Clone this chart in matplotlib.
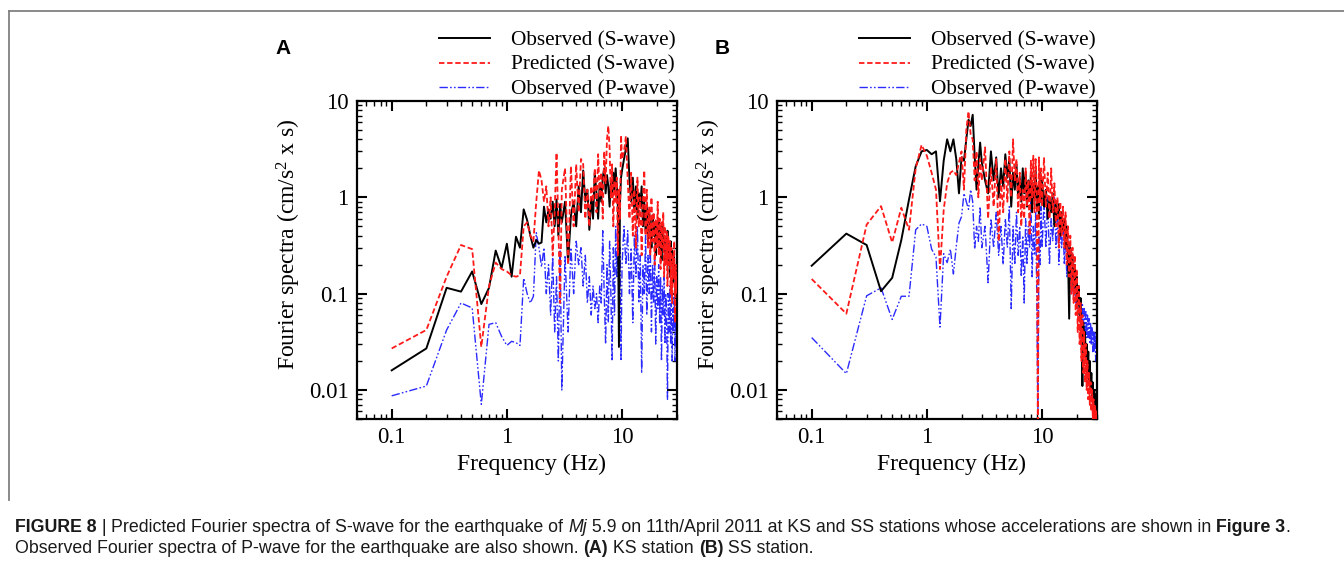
import numpy as np
import matplotlib
matplotlib.use('Agg')
import matplotlib.pyplot as plt
from matplotlib.lines import Line2D
from matplotlib.ticker import FixedLocator, FixedFormatter, LogLocator, NullFormatter
from matplotlib import font_manager

W, H = 1344, 561

# ---------------- data ----------------
# frequency grid (Hz): 0.1 step to 3 Hz, 0.2 step to 10 Hz, 0.4 step to 30 Hz
FREQ = np.round(np.concatenate([np.arange(1, 31) * 0.1,
                                3.0 + np.arange(1, 36) * 0.2,
                                10.0 + np.arange(1, 51) * 0.4]), 2)

A_OBS_S = [0.016, 0.027, 0.115, 0.105, 0.17, 0.078, 0.115, 0.28, 0.185, 0.33,
           0.15, 0.39, 0.30, 0.75, 0.58, 0.40, 0.30, 0.36, 0.33, 0.34,
           0.80, 0.55, 0.75, 0.60, 0.90, 0.50, 0.95, 0.40, 0.85, 0.55,
           0.9, 0.21, 0.65, 0.9, 0.5, 1.3, 0.7, 1.9, 0.9, 1.2,
           0.46, 1.0, 0.6, 1.8, 1.1, 0.6, 1.4, 0.9, 1.6, 2.0,
           1.1, 1.7, 1.3, 0.8, 1.5, 1.0, 1.8, 1.2, 2.0, 1.3,
           0.8, 0.028, 0.9, 1.6, 1.9,
           2.5, 3.2, 4.1, 1.5, 0.9, 1.6, 0.7, 1.3, 0.6, 1.1,
           0.8, 1.3, 0.5, 0.9, 0.45, 0.8, 0.35, 0.7, 0.5, 0.3,
           0.65, 0.4, 0.55, 0.25, 0.5, 0.35, 0.6, 0.3, 0.45, 0.22,
           0.5, 0.3, 0.4, 0.2, 0.35, 0.25, 0.45, 0.2, 0.3, 0.15,
           0.35, 0.2, 0.28, 0.13, 0.25, 0.15, 0.2, 0.1, 0.18, 0.12]

A_PRED_S = [0.027, 0.042, 0.15, 0.32, 0.29, 0.028, 0.12, 0.21, 0.18, 0.17,
            0.155, 0.15, 0.155, 0.5, 0.55, 0.4, 0.35, 0.9, 1.9, 1.5,
            0.9, 1.3, 0.5, 1.0, 0.25, 0.7, 2.9, 0.5, 0.08, 1.2,
            2.0, 0.2, 2.1, 0.5, 2.2, 0.7, 2.5, 2.2, 0.6, 1.2,
            0.5, 1.3, 0.9, 2.0, 0.7, 2.8, 1.0, 1.8, 0.6, 3.0,
            1.4, 4.0, 5.5, 3.2, 1.0, 2.2, 0.5, 1.5, 0.9, 1.6,
            0.25, 1.2, 0.6, 4.4, 2.5,
            3.0, 4.3, 1.5, 0.6, 1.8, 0.4, 1.2, 0.3, 1.6, 0.5,
            1.0, 0.25, 0.9, 1.9, 0.4, 1.2, 0.3, 0.8, 0.25, 1.0,
            0.35, 0.7, 0.2, 0.6, 0.3, 0.9, 0.25, 0.6, 0.18, 0.55,
            0.3, 0.7, 0.15, 0.5, 0.2, 0.45, 0.12, 0.4, 0.2, 0.35,
            0.1, 0.3, 0.08, 0.25, 0.15, 0.35, 0.05, 0.2, 0.1, 0.15]

A_OBS_P = [0.0087, 0.011, 0.042, 0.08, 0.071, 0.0071, 0.048, 0.05, 0.036, 0.029,
           0.032, 0.031, 0.029, 0.145, 0.10, 0.08, 0.094, 0.43, 0.3, 0.19,
           0.3, 0.1, 0.2, 0.06, 0.25, 0.04, 0.15, 0.02, 0.3, 0.01,
           0.25, 0.04, 0.3, 0.1, 0.35, 0.2, 0.3, 0.12, 0.25, 0.08,
           0.15, 0.06, 0.12, 0.07, 0.1, 0.05, 0.12, 0.08, 0.45, 0.1,
           0.03, 0.2, 0.05, 0.35, 0.1, 0.02, 0.3, 0.06, 0.5, 0.15,
           0.4, 0.08, 0.3, 0.02, 0.2,
           0.5, 0.2, 0.45, 0.1, 0.3, 0.05, 0.4, 0.15, 0.5, 0.08,
           0.25, 0.015, 0.2, 0.1, 0.4, 0.06, 0.25, 0.1, 0.3, 0.04,
           0.2, 0.08, 0.25, 0.03, 0.15, 0.07, 0.2, 0.05, 0.15, 0.02,
           0.12, 0.06, 0.15, 0.03, 0.1, 0.05, 0.008, 0.1, 0.04, 0.12,
           0.03, 0.08, 0.02, 0.07, 0.04, 0.1, 0.02, 0.06, 0.03, 0.05]

B_OBS_S = [0.195, 0.42, 0.32, 0.106, 0.146, 0.36, 0.95, 2.1, 3.0, 3.1,
           2.8, 3.0, 0.91, 2.4, 4.0, 3.0, 4.0, 2.5, 1.1, 2.6,
           2.4, 4.0, 6.4, 5.5, 7.2, 2.7, 1.2, 2.2, 3.7, 2.3,
           1.5, 1.1, 3.0, 1.5, 2.6, 1.0, 2.0, 1.3, 2.8, 1.6,
           2.5, 0.8, 1.8, 1.2, 2.2, 1.0, 1.6, 0.9, 2.0, 1.1,
           1.8, 0.8, 1.5, 1.0, 1.7, 0.7, 1.4, 1.0, 1.9, 0.8,
           1.3, 0.6, 1.8, 0.9, 1.5,
           0.8, 1.2, 0.6, 1.0, 0.7, 1.1, 0.5, 0.9, 0.6, 0.85,
           0.4, 0.7, 0.45, 0.6, 0.3, 0.5, 0.25, 0.055, 0.3, 0.2,
           0.25, 0.12, 0.2, 0.1, 0.15, 0.08, 0.12, 0.06, 0.09, 0.04,
           0.011, 0.05, 0.03, 0.04, 0.02, 0.03, 0.015, 0.025, 0.012, 0.02,
           0.01, 0.015, 0.008, 0.012, 0.007, 0.01, 0.006, 0.009, 0.006, 0.008]

B_PRED_S = [0.142, 0.062, 0.52, 0.81, 0.34, 0.78, 0.46, 2.0, 3.5, 2.7,
            1.8, 1.2, 0.18, 0.74, 1.4, 1.8, 1.9, 1.7, 2.3, 3.0,
            1.2, 5.0, 7.8, 4.5, 4.0, 1.5, 3.0, 1.0, 2.5, 1.5,
            3.3, 0.6, 2.0, 0.8, 2.5, 0.35, 1.5, 0.7, 2.5, 0.9,
            3.0, 1.0, 4.0, 1.5, 2.5, 0.7, 1.8, 0.5, 1.2, 0.6,
            2.0, 0.8, 1.5, 0.4, 2.4, 1.0, 2.7, 0.7, 2.5, 1.2,
            0.003, 2.6, 0.9, 2.0, 0.8,
            2.6, 0.8, 1.8, 0.6, 2.0, 0.7, 1.4, 0.5, 1.0, 0.3,
            0.9, 0.4, 0.8, 0.3, 0.7, 0.2, 0.5, 0.15, 0.4, 0.1,
            0.3, 0.08, 0.25, 0.06, 0.18, 0.04, 0.12, 0.03, 0.08, 0.02,
            0.06, 0.015, 0.04, 0.012, 0.03, 0.01, 0.02, 0.008, 0.015, 0.007,
            0.012, 0.006, 0.01, 0.005, 0.008, 0.004, 0.007, 0.005, 0.006, 0.004]

B_OBS_P = [0.035, 0.0148, 0.095, 0.115, 0.054, 0.094, 0.094, 0.46, 0.53, 0.50,
           0.29, 0.24, 0.045, 0.26, 0.21, 0.29, 0.16, 0.31, 0.54, 0.63,
           1.1, 0.9, 0.75, 1.2, 0.9, 0.29, 0.5, 0.35, 0.8, 0.3,
           0.5, 0.13, 0.6, 0.3, 0.7, 0.25, 0.5, 0.2, 0.6, 0.3,
           0.8, 0.07, 0.5, 0.2, 0.7, 0.25, 0.5, 0.15, 0.4, 0.08,
           0.6, 0.2, 0.5, 0.3, 0.9, 0.15, 0.5, 0.25, 0.7, 0.1,
           0.006, 0.4, 0.2, 0.8, 0.3,
           0.9, 0.3, 1.0, 0.2, 0.6, 0.35, 1.0, 0.3, 0.7, 0.2,
           0.5, 0.3, 0.6, 0.2, 0.4, 0.15, 0.3, 0.12, 0.25, 0.1,
           0.2, 0.09, 0.15, 0.08, 0.12, 0.07, 0.1, 0.06, 0.09, 0.05,
           0.08, 0.045, 0.07, 0.04, 0.065, 0.035, 0.06, 0.035, 0.055, 0.03,
           0.05, 0.03, 0.045, 0.025, 0.04, 0.025, 0.04, 0.02, 0.035, 0.03]

LEGEND_LABELS = ['Observed (S-wave)', 'Predicted (S-wave)', 'Observed (P-wave)']
XTICKS = [0.1, 1, 10]
XTICKLABELS = ['0.1', '1', '10']
YTICKS = [0.01, 0.1, 1, 10]
YTICKLABELS = ['0.01', '0.1', '1', '10']
PANEL_LABELS = ['A', 'B']
XLABEL = 'Frequency (Hz)'
YLABEL = r'Fourier spectra (cm/s$^2$ x s)'

# ---------------- style ----------------
plt.rcParams['font.family'] = ['Liberation Serif', 'DejaVu Serif']
plt.rcParams['mathtext.fontset'] = 'custom'
plt.rcParams['mathtext.rm'] = 'Liberation Serif'
plt.rcParams['mathtext.it'] = 'Liberation Serif:italic'
plt.rcParams['mathtext.bf'] = 'Liberation Serif:bold'

FS_TICK = 16.5
FS_LABEL = 17.0
FS_LEG = 15.3
fig = plt.figure(figsize=(W / 100, H / 100), dpi=100)
fig.patch.set_facecolor('white')


def make_panel(left_px, obs_s, pred_s, obs_p, label, label_x):
    ax = fig.add_axes([left_px / W, 1 - 419 / H, 320 / W, 318 / H])
    lp, = ax.plot(FREQ, obs_p, color='#2b2bff', lw=1.0,
                  linestyle=(0, (6, 1.6, 1.2, 1.6, 1.2, 1.6)), zorder=2)
    lo, = ax.plot(FREQ, obs_s, color='black', lw=1.4, zorder=3)
    lr, = ax.plot(FREQ, pred_s, color='#ff1a1a', lw=1.3,
                  linestyle=(0, (3, 1.5)), zorder=4)
    ax.set_xscale('log')
    ax.set_yscale('log')
    ax.set_xlim(0.05, 30)
    ax.set_ylim(0.005, 10)
    ax.xaxis.set_major_locator(FixedLocator(XTICKS))
    ax.xaxis.set_major_formatter(FixedFormatter(XTICKLABELS))
    ax.yaxis.set_major_locator(FixedLocator(YTICKS))
    ax.yaxis.set_major_formatter(FixedFormatter(YTICKLABELS))
    ax.xaxis.set_minor_locator(LogLocator(base=10, subs=range(2, 10), numticks=20))
    ax.yaxis.set_minor_locator(LogLocator(base=10, subs=range(2, 10), numticks=20))
    ax.xaxis.set_minor_formatter(NullFormatter())
    ax.yaxis.set_minor_formatter(NullFormatter())
    ax.tick_params(which='both', direction='in', top=True, right=True,
                   labelsize=FS_TICK, pad=6)
    ax.tick_params(which='major', length=7, width=1.5)
    ax.tick_params(which='minor', length=3.5, width=1.0)
    for s in ax.spines.values():
        s.set_linewidth(1.6)
    ax.set_xlabel(XLABEL, fontsize=FS_LABEL)
    ax.set_ylabel(YLABEL, fontsize=FS_LABEL)
    ax.xaxis.set_label_coords(0.544, -0.11)
    ax.yaxis.set_label_coords(-0.17, 0.55)
    ax.legend([lo, lr, lp], LEGEND_LABELS, loc='lower right',
              bbox_to_anchor=(1.0, 1.0), frameon=False, fontsize=FS_LEG,
              handlelength=2.4, handletextpad=1.0, labelspacing=0.24,
              borderpad=0.0, borderaxespad=0.05)
    fig.text(label_x / W, 1 - 48 / H, label, fontsize=15, fontweight='bold',
             family=['Liberation Sans', 'DejaVu Sans'], ha='center', va='center')
    return ax


make_panel(357, A_OBS_S, A_PRED_S, A_OBS_P, PANEL_LABELS[0], 283)
make_panel(777, B_OBS_S, B_PRED_S, B_OBS_P, PANEL_LABELS[1], 722)

# frame lines
fig.add_artist(Line2D([9 / W, 1.0], [1 - 11 / H, 1 - 11 / H], transform=fig.transFigure,
                      color='#808080', lw=1.3))
fig.add_artist(Line2D([9 / W, 9 / W], [1 - 11 / H, 1 - 500 / H], transform=fig.transFigure,
                      color='#808080', lw=1.3))

# caption
names = {f.name for f in font_manager.fontManager.ttflist}
CAP_FAM = ['Liberation Sans Narrow'] if 'Liberation Sans Narrow' in names else ['Liberation Sans']
CAP_FAM = CAP_FAM + ['DejaVu Sans']

LINE1 = [('FIGURE 8', 'bold', 'normal'), (' | ', 'normal', 'normal'),
         ('Predicted Fourier spectra of S-wave for the earthquake of ', 'normal', 'normal'),
         ('Mj', 'normal', 'italic'),
         (' 5.9 on 11th/April 2011 at KS and SS stations whose accelerations are shown in ', 'normal', 'normal'),
         ('Figure 3', 'bold', 'normal'), ('.', 'normal', 'normal')]
LINE2 = [('Observed Fourier spectra of P-wave for the earthquake are also shown. ', 'normal', 'normal'),
         ('(A)', 'bold', 'normal'), (' KS station ', 'normal', 'normal'),
         ('(B)', 'bold', 'normal'), (' SS station.', 'normal', 'normal')]

renderer = fig.canvas.get_renderer()


def piece_width(s, size, wt, st):
    t1 = fig.text(0, 0, '|' + s + '|', fontsize=size, fontweight=wt, fontstyle=st, family=CAP_FAM)
    t2 = fig.text(0, 0, '||', fontsize=size, fontweight=wt, fontstyle=st, family=CAP_FAM)
    w = t1.get_window_extent(renderer).width - t2.get_window_extent(renderer).width
    t1.remove()
    t2.remove()
    return w


def rich_line(x_px, base_px, pieces, size):
    x = x_px
    for s, wt, st in pieces:
        w = piece_width(s, size, wt, st)
        fig.text(x / W, 1 - base_px / H, s, fontsize=size, fontweight=wt, fontstyle=st,
                 family=CAP_FAM, va='baseline', ha='left', color='#1a1a1a')
        x += w


ref_size = 12.0
total = sum(piece_width(s, ref_size, wt, st) for s, wt, st in LINE1)
cap_size = ref_size * 1275.0 / total
rich_line(15, 532, LINE1, cap_size)
rich_line(15, 553, LINE2, cap_size)

fig.savefig('out.png', dpi=100, facecolor='white')
